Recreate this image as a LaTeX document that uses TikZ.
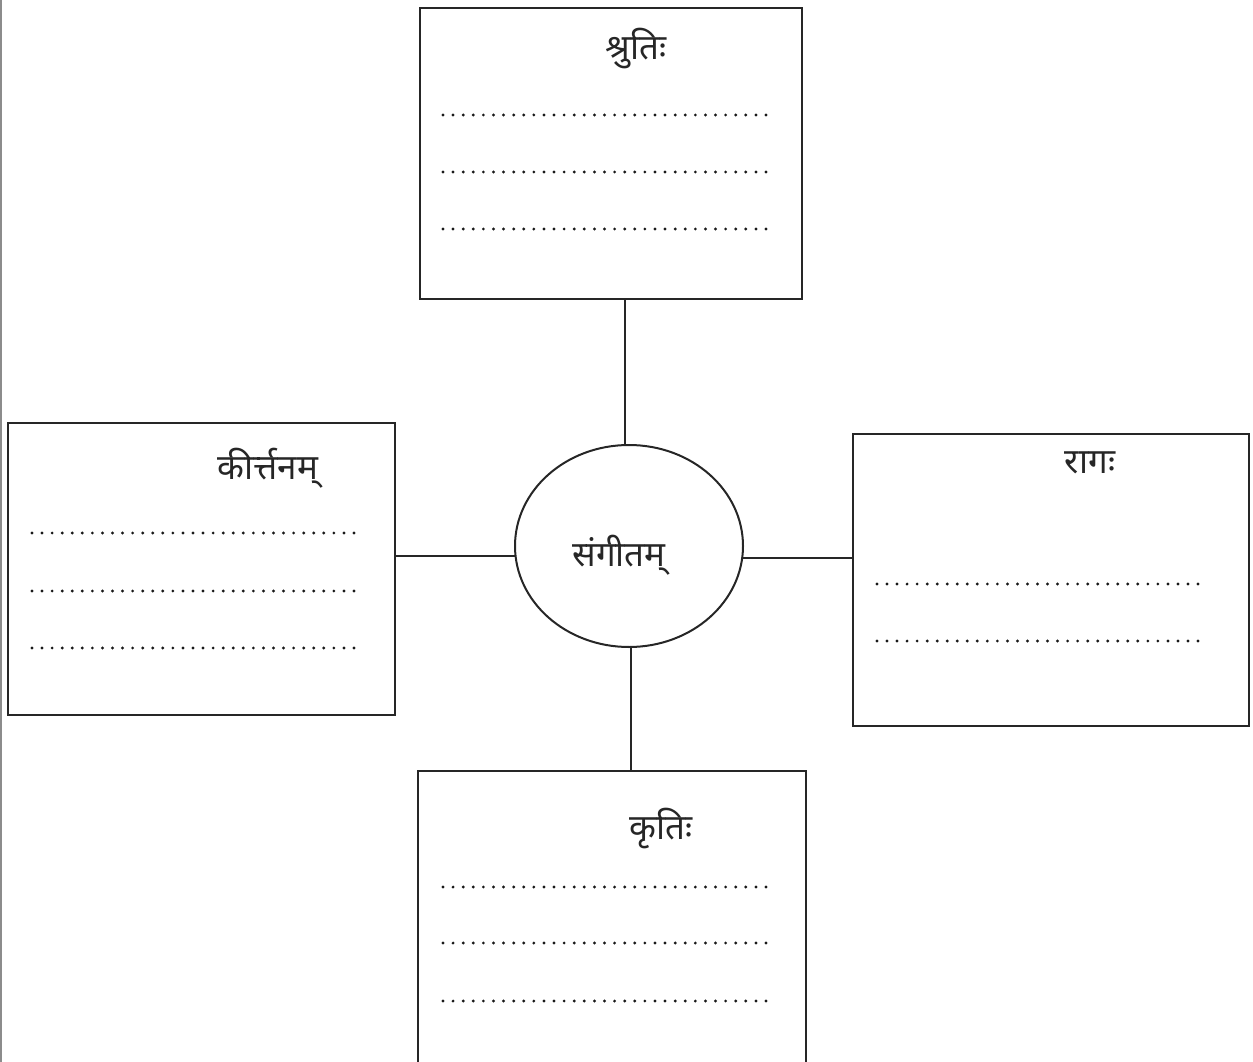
\documentclass[tikz,border=0pt]{standalone}
\usepackage{fontspec}
\newfontfamily\deva[Script=Devanagari]{Noto Sans}
\usetikzlibrary{shapes.geometric}
\tikzset{
  box/.style={draw=black!85, line width=2.3pt, rectangle, inner sep=0pt},
  ell/.style={draw=black!85, line width=2pt, ellipse, inner sep=0pt},
  conn/.style={draw=black!85, line width=2pt},
  title/.style={font=\deva\fontsize{35}{40}\selectfont, anchor=base, inner sep=0pt, text=black!85},
  dotfill/.style={fill=black!90}
}
\newcommand{\dotrow}[3]{% x0, x1, y
  \foreach \i in {0,...,32} {\fill[dotfill] ({#1+\i*(#2-#1)/32},#3) circle (1.6);}}
\begin{document}
\begin{tikzpicture}[x=1pt,y=-1pt]
\useasboundingbox (0,0) rectangle (1253,1062);
\clip (0,0) rectangle (1253,1062);
\fill[black!45] (0,0) rectangle (2,1062);
% boxes
\node[box, minimum width=382pt, minimum height=291pt] (top) at (611,153.5) {};
\node[box, minimum width=387pt, minimum height=292pt] (left) at (201.5,569) {};
\node[box, minimum width=396pt, minimum height=292pt] (right) at (1051,580) {};
\node[box, minimum width=388pt, minimum height=300pt] (bot) at (612,921) {};
\node[ell, minimum width=228pt, minimum height=202pt] (ell) at (629,546) {};
% titles
\node[title] (ttop) at (636,60) {श्रुतिः};
\node[title] (tleft) at (268,479) {कीर्त्तनम्};
\node[title] (tright) at (1090,473) {रागः};
\node[title] (tbot) at (661,839) {कृतिः};
\node[title] (tell) at (619,566) {संगीतम्};
% connectors
\draw[conn] (ell.92.3) -- (ell.92.3 |- top.south);
\draw[conn] (ell.185) -- (ell.185 -| left.east);
\draw[conn] (ell.354.5) -- (ell.354.5 -| right.west);
\draw[conn] (ell.271.1) -- (ell.271.1 |- bot.north);
% dotted answer lines
\dotrow{443}{766}{115}
\dotrow{443}{766}{172}
\dotrow{443}{766}{229}
\dotrow{32}{354}{533}
\dotrow{32}{354}{591}
\dotrow{32}{354}{648}
\dotrow{877}{1198}{584}
\dotrow{877}{1198}{641}
\dotrow{443}{766}{887}
\dotrow{443}{766}{943}
\dotrow{443}{766}{1001}
\end{tikzpicture}
\end{document}
